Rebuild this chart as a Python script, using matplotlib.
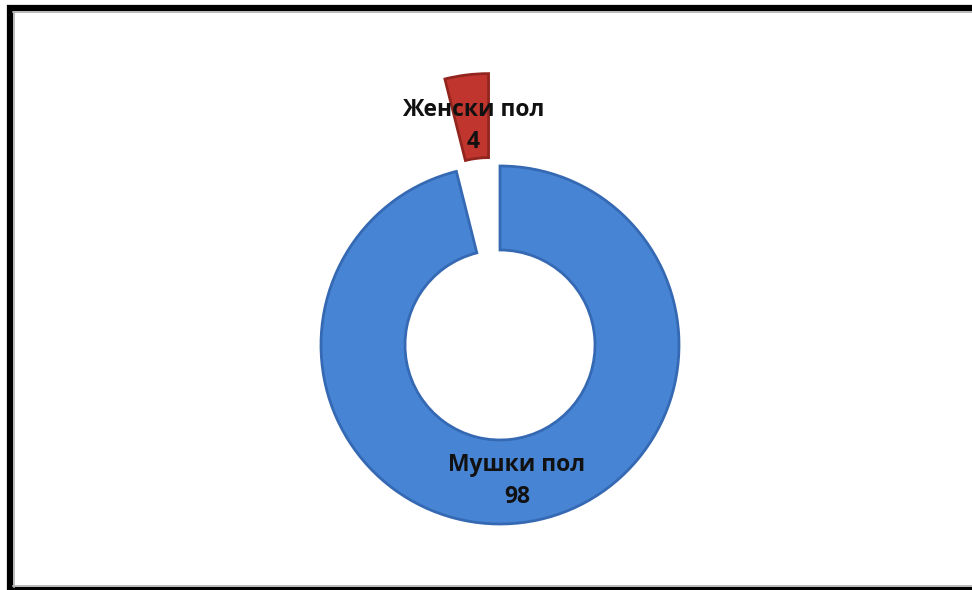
import numpy as np
import matplotlib.pyplot as plt
from matplotlib.lines import Line2D

labels = ["Мушки пол", "Женски пол"]
values = [98, 4]
colors = ["#4785D4", "#C0362E"]
edges = ["#3569B3", "#92261F"]
explode = [0, 0.52]  # fraction of radius

W, H = 972, 590
cx, cy = 500, H - 345
R = 179
ring = 84

fig = plt.figure(figsize=(W / 100, H / 100), dpi=100)
ax = fig.add_axes([0, 0, 1, 1])

wedges, _ = ax.pie(values, colors=colors, explode=[e * R for e in explode],
                   startangle=90, counterclock=False, radius=R, center=(cx, cy),
                   wedgeprops=dict(width=ring, linewidth=2), frame=True)
ax.set_xlim(0, W)
ax.set_ylim(0, H)
ax.set_aspect("equal")
ax.axis("off")

for w, ec, lab, v, ex in zip(wedges, edges, labels, values, explode):
    w.set_edgecolor(ec)
    mid = np.deg2rad((w.theta1 + w.theta2) / 2)
    r = R - ring / 2 + 0.9 * ex * R
    x = cx + r * np.cos(mid)
    y = cy + r * np.sin(mid)
    ax.text(x, y, f"{lab}\n{v}", ha="center", va="center", fontsize=16.5,
            fontweight="bold", family="Open Sans", color="#111111",
            linespacing=1.45)

# outer frame
fig.add_artist(Line2D([7, W], [H - 8, H - 8], transform=None, color="black",
                      lw=4.5, solid_capstyle="butt"))
fig.add_artist(Line2D([10, 10], [H - 5, 0], transform=None, color="black",
                      lw=4.5, solid_capstyle="butt"))
fig.add_artist(Line2D([7, W], [1.5, 1.5], transform=None, color="black",
                      lw=3, solid_capstyle="butt"))
fig.add_artist(Line2D([13, W], [H - 12, H - 12], transform=None, color="#b0b0b0", lw=1.2))
fig.add_artist(Line2D([13.5, 13.5], [H - 12, 3], transform=None, color="#b0b0b0", lw=1.2))
fig.add_artist(Line2D([13, W], [4, 4], transform=None, color="#b0b0b0", lw=1.2))

fig.savefig("out.png", dpi=100, facecolor="white")
